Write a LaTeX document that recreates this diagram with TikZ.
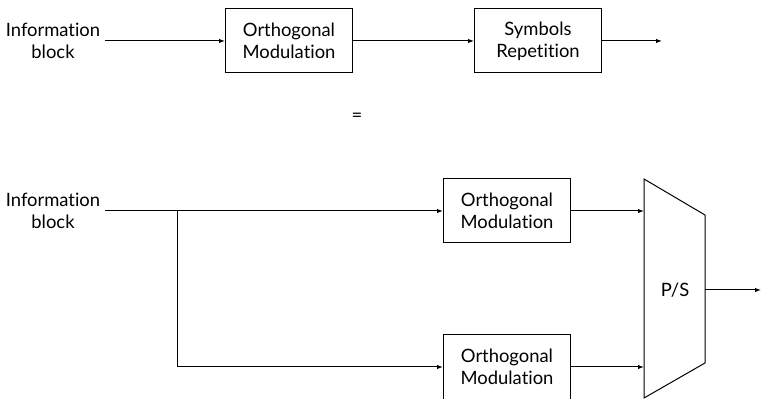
\documentclass[tikz,border=0pt]{standalone}
\usepackage{fontspec}
\setmainfont{Lato}[Ligatures={NoCommon}]
\usetikzlibrary{arrows.meta}
\begin{document}
\begin{tikzpicture}[x=0.5pt,y=-0.5pt,
  every node/.style={font=\fontsize{9.2}{11}\selectfont, align=center},
  blk/.style={draw, line width=0.5pt, minimum width=63.5pt, minimum height=32pt, inner sep=0pt},
  arr/.style={-{Latex[length=3pt,width=2.2pt]}, line width=0.5pt},
  ln/.style={line width=0.5pt}]
\path[use as bounding box] (0,0) rectangle (763,399);
% top row
\node (info1) at (53,41) {Information\\block};
\node[blk] (om1) at (289,41) {Orthogonal\\Modulation};
\node[blk] (sr) at (538,41) {Symbols\\Repetition};
\coordinate (out1) at (662,41);
\coordinate (s1) at (105,41);
\draw[arr] (s1) -- (om1.west);
\draw[arr] (om1.east) -- (sr.west);
\draw[arr] (sr.east) -- (out1);
% equals
\node (eq) at (357,117) {=};
% bottom
\node (info2) at (53,211) {Information\\block};
\coordinate (s2) at (105,211);
\coordinate (br) at (177,211);
\node[blk] (om2) at (507,211) {Orthogonal\\Modulation};
\node[blk] (om3) at (507,367) {Orthogonal\\Modulation};
\draw[arr] (s2) -- (om2.west);
\draw[arr] (br) |- (om3.west);
% P/S trapezoid
\coordinate (ps1) at (644,179);
\coordinate (ps2) at (705,215);
\coordinate (ps3) at (705,363);
\coordinate (ps4) at (644,398);
\draw[ln] (ps1) -- (ps2) -- (ps3) -- (ps4) -- cycle;
\node (ps) at (675,290) {P/S};
\coordinate (psin1) at (644,211);
\coordinate (psin2) at (644,367);
\coordinate (psout) at (705,290);
\coordinate (out2) at (761,290);
\draw[arr] (om2.east) -- (psin1);
\draw[arr] (om3.east) -- (psin2);
\draw[arr] (psout) -- (out2);
\end{tikzpicture}
\end{document}
